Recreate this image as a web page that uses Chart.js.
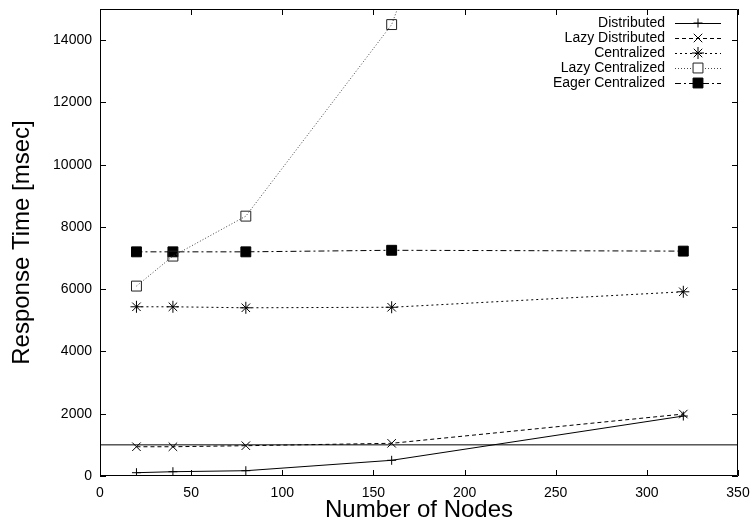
<!DOCTYPE html>
<html>
<head>
<meta charset="utf-8">
<script src="https://cdn.jsdelivr.net/npm/chart.js@4/dist/chart.umd.min.js"></script>
<style>
html,body{margin:0;padding:0;background:#fff;}
#wrap{width:751px;height:525px;position:relative;}
</style>
</head>
<body>
<div id="wrap"><canvas id="c" width="751" height="525"></canvas></div>
<script>
const nodes = [20, 40, 80, 160, 320];
const distributed = [106, 138, 170, 504, 1926];
const lazyDistributed = [940, 940, 973, 1050, 1990];
const centralized = [5435, 5435, 5403, 5420, 5917];
const lazyCentralized = [6100, 7063, 8347, 14500, 40000];
const eagerCentralized = [7200, 7200, 7200, 7250, 7223];
const thresholdX = [0, 350];
const thresholdY = [1000, 1000];
const xTicks = [0, 50, 100, 150, 200, 250, 300, 350];
const yTicks = [0, 2000, 4000, 6000, 8000, 10000, 12000, 14000];
const seriesNames = ['Distributed', 'Lazy Distributed', 'Centralized', 'Lazy Centralized', 'Eager Centralized'];

const FONT = "'Liberation Sans', Arial, Helvetica, sans-serif";
const pts = arr => nodes.map((n, i) => ({x: n, y: arr[i]}));

const series = [
  {label: seriesNames[0], data: pts(distributed), borderColor:'#000', borderDash:[], pointStyle:'cross', pointRadius:4.5, pointBorderColor:'#000', pointBackgroundColor:'#000'},
  {label: seriesNames[1], data: pts(lazyDistributed), borderColor:'#000', borderDash:[4,3], pointStyle:'crossRot', pointRadius:6, pointBorderColor:'#000', pointBackgroundColor:'#000'},
  {label: seriesNames[2], data: pts(centralized), borderColor:'#000', borderDash:[2,3], pointStyle:'star', pointRadius:6, pointBorderColor:'#000', pointBackgroundColor:'#000'},
  {label: seriesNames[3], data: pts(lazyCentralized), borderColor:'#444', borderDash:[1,2], pointStyle:'rect', pointRadius:7, pointBorderColor:'#222', pointBackgroundColor:'rgba(255,255,255,0)'},
  {label: seriesNames[4], data: pts(eagerCentralized), borderColor:'#000', borderDash:[6,3,2,3], pointStyle:'rect', pointRadius:7, pointBorderColor:'#000', pointBackgroundColor:'#000'}
];

const datasets = series.map(s => Object.assign({
  borderWidth: 1, pointBorderWidth: 1, showLine: true, fill: false, tension: 0
}, s));
datasets.push({
  label: 'threshold', data: thresholdX.map((x,i)=>({x:x, y:thresholdY[i]})),
  borderColor:'#000', borderWidth:1, pointRadius:0, showLine:true, fill:false
});

const framePlugin = {
  id: 'frame',
  afterDraw(chart) {
    const {ctx, chartArea: a, scales} = chart;
    ctx.save();
    ctx.strokeStyle = '#000';
    ctx.lineWidth = 1;
    ctx.setLineDash([]);
    ctx.beginPath();
    ctx.rect(Math.round(a.left)+0.5, Math.round(a.top)+0.5, Math.round(a.right-a.left)-1, Math.round(a.bottom-a.top)-1);
    ctx.stroke();
    const tl = 6;
    ctx.beginPath();
    xTicks.forEach(v => {
      const px = Math.round(scales.x.getPixelForValue(v)) + 0.5;
      ctx.moveTo(px, a.bottom); ctx.lineTo(px, a.bottom - tl);
      ctx.moveTo(px, a.top); ctx.lineTo(px, a.top + tl);
    });
    yTicks.forEach(v => {
      const py = Math.round(scales.y.getPixelForValue(v)) + 0.5;
      ctx.moveTo(a.left, py); ctx.lineTo(a.left + tl, py);
      ctx.moveTo(a.right, py); ctx.lineTo(a.right - tl, py);
    });
    ctx.stroke();

    // legend
    ctx.font = '14px ' + FONT;
    ctx.textAlign = 'right';
    ctx.textBaseline = 'middle';
    ctx.fillStyle = '#000';
    const textRight = 665, lx0 = 675, lx1 = 721, y0 = 23, dy = 15;
    series.forEach((s, i) => {
      const y = y0 + dy * i;
      ctx.fillStyle = '#000';
      ctx.fillText(s.label, textRight, y);
      ctx.beginPath();
      ctx.setLineDash(s.borderDash);
      ctx.strokeStyle = s.borderColor;
      ctx.moveTo(lx0, Math.round(y) + 0.5); ctx.lineTo(lx1, Math.round(y) + 0.5);
      ctx.stroke();
      ctx.setLineDash([]);
      ctx.strokeStyle = s.pointBorderColor;
      ctx.fillStyle = s.pointBackgroundColor;
      ctx.lineWidth = 1;
      if (s.pointBackgroundColor.indexOf('rgba') === 0) {
        ctx.fillStyle = '#fff';
        ctx.fillRect(698 - 5, y - 5, 10, 10);
        ctx.fillStyle = s.pointBackgroundColor;
      }
      Chart.helpers.drawPoint(ctx, {pointStyle: s.pointStyle, radius: s.pointRadius, borderWidth: 1, rotation: 0}, 698, y);
    });
    ctx.restore();
  }
};

new Chart(document.getElementById('c'), {
  type: 'scatter',
  data: {datasets},
  options: {
    responsive: false,
    animation: false,
    layout: {padding: {left: 0, right: 13, top: 9, bottom: 0}},
    plugins: {legend: {display: false}, tooltip: {enabled: false}},
    scales: {
      x: {
        type: 'linear', min: 0, max: 350,
        afterFit(s) { s.height = 49; s.paddingLeft = 0; s.paddingRight = 0; },
        afterBuildTicks(s) { s.ticks = xTicks.map(v => ({value: v})); },
        grid: {display: false, drawTicks: false},
        border: {display: false},
        ticks: {color: '#000', font: {family: FONT, size: 14}, padding: 9, maxRotation: 0, autoSkip: false,
                callback: v => String(v)},
        title: {display: true, text: 'Number of Nodes', color: '#000', font: {family: FONT, size: 24}, padding: {top: 0, bottom: 0}}
      },
      y: {
        type: 'linear', min: 0, max: 15000,
        afterFit(s) { s.width = 100; s.paddingTop = 0; s.paddingBottom = 0; },
        afterBuildTicks(s) { s.ticks = yTicks.map(v => ({value: v})); },
        grid: {display: false, drawTicks: false},
        border: {display: false},
        ticks: {color: '#000', font: {family: FONT, size: 14}, padding: 8, autoSkip: false,
                callback: v => String(v)},
        title: {display: true, text: 'Response Time [msec]', color: '#000', font: {family: FONT, size: 24}, padding: {top: 8, bottom: 0}}
      }
    }
  },
  plugins: [framePlugin]
});
</script>
</body>
</html>
